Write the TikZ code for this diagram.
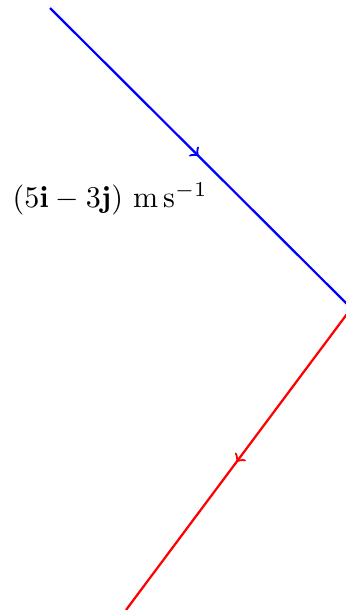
\documentclass[tikz,border=0pt]{standalone}
\usepackage{amssymb, amsmath}
\usetikzlibrary{decorations.markings}

\tikzset{
  midarrow/.style={decoration={markings, mark=at position 0.5 with {\arrow{>}}}, postaction={decorate}},
  pathline/.style={thick, midarrow}
}

\begin{document}
\begin{tikzpicture}
\begin{scope}[x=0.0126cm, y=-0.0126cm]
\useasboundingbox (0,0) rectangle (346,610);
\coordinate (start) at (50,8);
\coordinate (wall1) at (347,304);
\coordinate (wall2) at (347,314);
\coordinate (finish) at (126,610);

\draw[pathline, blue](start)to(wall1);
\draw[pathline, red](wall2)to(finish);

\node[anchor=base west, inner sep=0pt, scale=1.08] (vel) at (12,207) {$(5\mathbf{i}-3\mathbf{j})\ \mathrm{m\,s^{-1}}$};
\end{scope}
\end{tikzpicture}
\end{document}
